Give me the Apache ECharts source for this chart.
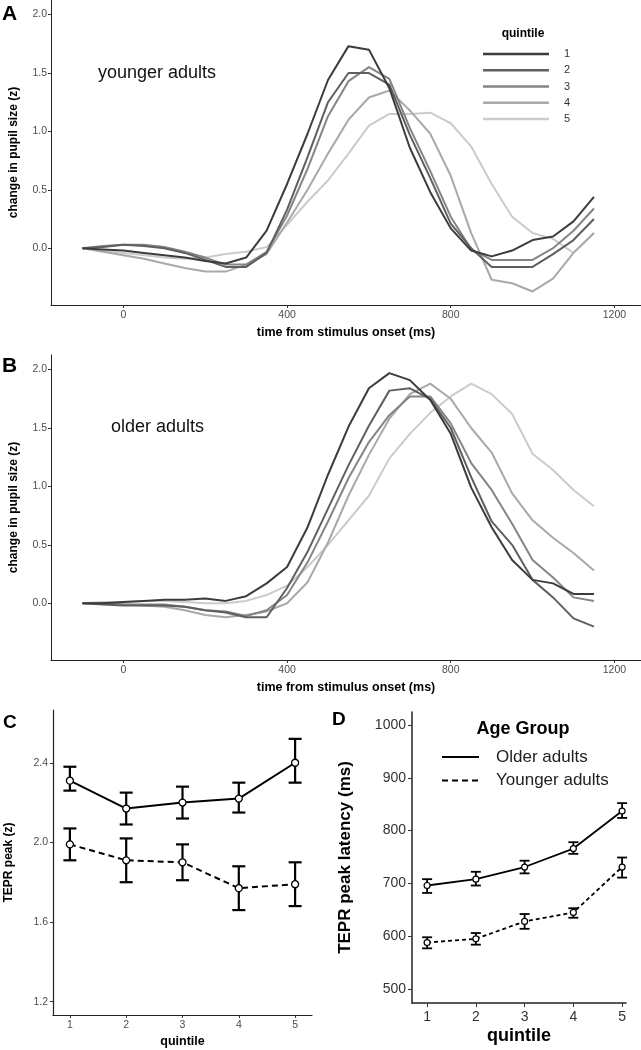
<!DOCTYPE html>
<html>
<head>
<meta charset="utf-8">
<script src="https://cdn.jsdelivr.net/npm/echarts@6/dist/echarts.min.js"></script>
<style>
html,body{margin:0;padding:0;background:#fff;}
#chart{width:641px;height:1050px;}
</style>
</head>
<body>
<div id="chart"></div>
<script>
// ---------- DATA ----------
const timeMs = [-100,-50,0,50,100,150,200,250,300,350,400,450,500,550,600,650,700,750,800,850,900,950,1000,1050,1100,1150];
const quintiles = ['1','2','3','4','5'];
// Panel A: younger adults
const youngQ1 = [0,-0.01,-0.02,-0.04,-0.06,-0.08,-0.11,-0.13,-0.08,0.15,0.55,0.98,1.44,1.73,1.70,1.37,0.86,0.48,0.17,-0.02,-0.07,-0.02,0.07,0.10,0.23,0.44];
const youngQ2 = [0,0.01,0.03,0.02,0.00,-0.04,-0.10,-0.16,-0.16,-0.04,0.33,0.78,1.25,1.50,1.50,1.40,0.97,0.60,0.21,0.00,-0.16,-0.16,-0.16,-0.05,0.07,0.25];
const youngQ3 = [0,0.02,0.03,0.03,0.01,-0.03,-0.08,-0.14,-0.14,-0.03,0.28,0.68,1.13,1.43,1.55,1.45,1.03,0.66,0.27,-0.01,-0.10,-0.10,-0.10,0.00,0.15,0.34];
const youngQ4 = [0,-0.03,-0.06,-0.09,-0.13,-0.17,-0.20,-0.20,-0.14,-0.05,0.22,0.50,0.81,1.10,1.29,1.35,1.18,0.98,0.62,0.13,-0.27,-0.30,-0.37,-0.26,-0.04,0.13];
const youngQ5 = [0,-0.02,-0.04,-0.06,-0.08,-0.09,-0.08,-0.05,-0.03,0.01,0.20,0.40,0.58,0.81,1.05,1.15,1.15,1.16,1.07,0.87,0.55,0.27,0.13,0.08,-0.04,0.13];
// Panel B: older adults
const olderQ1 = [0,0.00,0.01,0.02,0.03,0.03,0.04,0.02,0.06,0.17,0.31,0.65,1.10,1.51,1.84,1.97,1.91,1.74,1.45,0.99,0.65,0.37,0.20,0.17,0.08,0.08];
const olderQ2 = [0,-0.01,-0.02,-0.02,-0.02,-0.03,-0.06,-0.08,-0.12,-0.12,0.13,0.44,0.81,1.18,1.52,1.82,1.84,1.75,1.50,1.08,0.70,0.50,0.20,0.05,-0.13,-0.20];
const olderQ3 = [0,0.00,-0.01,-0.01,-0.01,-0.03,-0.06,-0.07,-0.11,-0.06,0.07,0.35,0.70,1.07,1.38,1.61,1.77,1.77,1.54,1.20,0.97,0.68,0.37,0.22,0.05,0.02];
const olderQ4 = [0,0.00,-0.01,-0.02,-0.03,-0.06,-0.10,-0.12,-0.10,-0.07,0.00,0.18,0.52,0.92,1.27,1.58,1.79,1.88,1.75,1.50,1.29,0.94,0.71,0.56,0.43,0.28];
const olderQ5 = [0,0.01,0.01,0.02,0.02,0.01,0.00,0.00,0.02,0.07,0.15,0.31,0.50,0.71,0.92,1.24,1.45,1.63,1.77,1.88,1.79,1.62,1.28,1.14,0.97,0.83];
// Panel C: TEPR peak (z)
const quintileNum = [1,2,3,4,5];
const peakOlder = [2.31,2.17,2.20,2.22,2.40];
const peakOlderLo = [2.26,2.09,2.12,2.15,2.30];
const peakOlderHi = [2.38,2.25,2.28,2.30,2.52];
const peakYounger = [1.99,1.91,1.90,1.77,1.79];
const peakYoungerLo = [1.91,1.80,1.81,1.66,1.68];
const peakYoungerHi = [2.07,2.02,1.99,1.88,1.90];
// Panel D: TEPR peak latency (ms)
const latOlder = [696,708,731,766,837];
const latOlderLo = [682,696,719,756,824];
const latOlderHi = [708,722,743,778,852];
const latYounger = [588,595,628,645,731];
const latYoungerLo = [577,584,614,635,711];
const latYoungerHi = [598,606,642,653,749];
// tick labels
const timeTicks = [0,400,800,1200];
const pupilTicks = [0,0.5,1.0,1.5,2.0];
const peakTicks = [1.2,1.6,2.0,2.4];
const latTicks = [500,600,700,800,900,1000];

// ---------- STYLE ----------
const FONT = 'Liberation Sans, Arial, sans-serif';
const greys = ['#3c3c3c','#5f5f5f','#858585','#a9a9a9','#cbcbcb'];
const youngData = [youngQ1,youngQ2,youngQ3,youngQ4,youngQ5];
const olderData = [olderQ1,olderQ2,olderQ3,olderQ4,olderQ5];
const zip = (xs, ys) => xs.map((x,i)=>[x, ys[i]]);
const zip3 = (xs, a, b) => xs.map((x,i)=>[x, a[i], b[i]]);
const plain = v => String(v);

function timeX(gi){
  return {
    type:'value', gridIndex:gi, min:-177, max:1265,
    name:'time from stimulus onset (ms)', nameLocation:'middle', nameGap:21,
    nameTextStyle:{fontFamily:FONT, fontWeight:'bold', fontSize:12.5, color:'#000'},
    axisLine:{show:true, onZero:false, lineStyle:{color:'#222', width:1}},
    axisTick:{show:true, length:3, lineStyle:{color:'#333'}, customValues:timeTicks},
    axisLabel:{fontFamily:FONT, fontSize:10.5, color:'#4d4d4d', margin:5, customValues:timeTicks, formatter:plain},
    splitLine:{show:false}
  };
}
function pupilY(gi){
  return {
    type:'value', gridIndex:gi, min:-0.486, max:2.125,
    name:'change in pupil size (z)', nameLocation:'middle', nameGap:31,
    nameTextStyle:{fontFamily:FONT, fontWeight:'bold', fontSize:12, color:'#000'},
    axisLine:{show:true, onZero:false, lineStyle:{color:'#222', width:1}},
    axisTick:{show:true, length:3, lineStyle:{color:'#333'}, customValues:pupilTicks},
    axisLabel:{fontFamily:FONT, fontSize:10.5, color:'#4d4d4d', margin:4, customValues:pupilTicks,
      formatter:v=>v.toFixed(1)},
    splitLine:{show:false}
  };
}
function errRender(capHalf, lw){
  return function(params, api){
    const x = api.value(0), lo = api.value(1), hi = api.value(2);
    const a = api.coord([x, lo]), b = api.coord([x, hi]);
    const st = {stroke:'#000', lineWidth:lw};
    return {type:'group', children:[
      {type:'line', shape:{x1:a[0], y1:a[1], x2:b[0], y2:b[1]}, style:st},
      {type:'line', shape:{x1:a[0]-capHalf, y1:a[1], x2:a[0]+capHalf, y2:a[1]}, style:st},
      {type:'line', shape:{x1:b[0]-capHalf, y1:b[1], x2:b[0]+capHalf, y2:b[1]}, style:st}
    ]};
  };
}

const series = [];
quintiles.forEach((q,i)=>{
  series.push({type:'line', name:q, xAxisIndex:0, yAxisIndex:0, data:zip(timeMs, youngData[i]),
    showSymbol:false, symbol:'none', color:greys[i], lineStyle:{width:2, color:greys[i]}, z:10-i});
});
quintiles.forEach((q,i)=>{
  series.push({type:'line', name:q, xAxisIndex:1, yAxisIndex:1, data:zip(timeMs, olderData[i]),
    showSymbol:false, symbol:'none', color:greys[i], lineStyle:{width:2, color:greys[i]}, z:10-i});
});
// Panel C
series.push({type:'custom', name:'peak CI older', xAxisIndex:2, yAxisIndex:2, renderItem:errRender(6.5,2.2),
  data:zip3(quintileNum, peakOlderLo, peakOlderHi), encode:{x:0, y:[1,2]}, z:2});
series.push({type:'custom', name:'peak CI younger', xAxisIndex:2, yAxisIndex:2, renderItem:errRender(6.5,2.2),
  data:zip3(quintileNum, peakYoungerLo, peakYoungerHi), encode:{x:0, y:[1,2]}, z:2});
series.push({type:'line', name:'Older adults', xAxisIndex:2, yAxisIndex:2, data:zip(quintileNum, peakOlder),
  symbol:'circle', symbolSize:7, itemStyle:{color:'#fff', borderColor:'#000', borderWidth:1.3},
  lineStyle:{color:'#000', width:2, type:'solid'}, z:5});
series.push({type:'line', name:'Younger adults', xAxisIndex:2, yAxisIndex:2, data:zip(quintileNum, peakYounger),
  symbol:'circle', symbolSize:7, itemStyle:{color:'#fff', borderColor:'#000', borderWidth:1.3},
  lineStyle:{color:'#000', width:2, type:[6,4]}, z:5});
// Panel D
series.push({type:'custom', name:'latency CI older', xAxisIndex:3, yAxisIndex:3, renderItem:errRender(5,1.8),
  data:zip3(quintileNum, latOlderLo, latOlderHi), encode:{x:0, y:[1,2]}, z:2});
series.push({type:'custom', name:'latency CI younger', xAxisIndex:3, yAxisIndex:3, renderItem:errRender(5,1.8),
  data:zip3(quintileNum, latYoungerLo, latYoungerHi), encode:{x:0, y:[1,2]}, z:2});
series.push({type:'line', name:'Older adults', xAxisIndex:3, yAxisIndex:3, data:zip(quintileNum, latOlder),
  symbol:'circle', symbolSize:6, itemStyle:{color:'#fff', borderColor:'#000', borderWidth:1.2},
  lineStyle:{color:'#000', width:1.8, type:'solid'}, z:5});
series.push({type:'line', name:'Younger adults', xAxisIndex:3, yAxisIndex:3, data:zip(quintileNum, latYounger),
  symbol:'circle', symbolSize:6, itemStyle:{color:'#fff', borderColor:'#000', borderWidth:1.2},
  lineStyle:{color:'#000', width:1.8, type:[4,3]}, z:5});

const baseAxisLine = {show:true, onZero:false, lineStyle:{color:'#222', width:1.2}};

const option = {
  animation:false,
  backgroundColor:'#fff',
  textStyle:{fontFamily:FONT},
  grid:[
    {left:47, top:0, width:594, height:305},
    {left:47, top:355, width:594, height:305},
    {left:53, top:710, width:259, height:305},
    {left:412, top:712, width:214, height:291}
  ],
  xAxis:[
    timeX(0), timeX(1),
    {type:'value', gridIndex:2, min:0.7, max:5.3, name:'quintile', nameLocation:'middle', nameGap:20,
      nameTextStyle:{fontFamily:FONT, fontWeight:'bold', fontSize:12.5, color:'#000'},
      axisLine:baseAxisLine, axisTick:{show:true, length:3, lineStyle:{color:'#333'}, customValues:quintileNum},
      axisLabel:{fontFamily:FONT, fontSize:10.5, color:'#4d4d4d', margin:5, customValues:quintileNum}, splitLine:{show:false}},
    {type:'value', gridIndex:3, min:0.69, max:5.08, name:'quintile', nameLocation:'middle', nameGap:24,
      nameTextStyle:{fontFamily:FONT, fontWeight:'bold', fontSize:18, color:'#000'},
      axisLine:{show:true, onZero:false, lineStyle:{color:'#222', width:1.5}},
      axisTick:{show:true, length:4, lineStyle:{color:'#333'}, customValues:quintileNum},
      axisLabel:{fontFamily:FONT, fontSize:14, color:'#333', margin:7, customValues:quintileNum}, splitLine:{show:false}}
  ],
  yAxis:[
    pupilY(0), pupilY(1),
    {type:'value', gridIndex:2, min:1.133, max:2.665, name:'TEPR peak (z)', nameLocation:'middle', nameGap:38,
      nameTextStyle:{fontFamily:FONT, fontWeight:'bold', fontSize:12, color:'#000'},
      axisLine:baseAxisLine, axisTick:{show:true, length:3, lineStyle:{color:'#333'}, customValues:peakTicks},
      axisLabel:{fontFamily:FONT, fontSize:10.5, color:'#4d4d4d', margin:5, customValues:peakTicks, formatter:v=>v.toFixed(1)},
      splitLine:{show:false}},
    {type:'value', gridIndex:3, min:473.5, max:1024.6, name:'TEPR peak latency (ms)', nameLocation:'middle', nameGap:58,
      nameTextStyle:{fontFamily:FONT, fontWeight:'bold', fontSize:17, color:'#000'},
      axisLine:{show:true, onZero:false, lineStyle:{color:'#222', width:1.5}},
      axisTick:{show:true, length:4, lineStyle:{color:'#333'}, customValues:latTicks},
      axisLabel:{fontFamily:FONT, fontSize:14, color:'#333', margin:6, customValues:latTicks, formatter:plain},
      splitLine:{show:false}}
  ],
  legend:[
    {data:quintiles, orient:'vertical', left:483, top:47, padding:0, icon:'rect',
      itemWidth:66, itemHeight:2.5, itemGap:2.25, selectedMode:false,
      textStyle:{fontFamily:FONT, fontSize:11, color:'#333', lineHeight:14, padding:[0,0,0,10]}},
    {data:['Older adults','Younger adults'], orient:'vertical', left:441, top:747, padding:0,
      itemWidth:37, itemHeight:14, itemGap:3.5, selectedMode:false,
      itemStyle:{opacity:0},
      textStyle:{fontFamily:FONT, fontSize:17, color:'#222', lineHeight:20, padding:[0,0,0,12]}}
  ],
  graphic:[
    {type:'text', left:2, top:4, style:{text:'A', font:'bold 21px '+FONT, fill:'#000'}},
    {type:'text', left:2, top:356, style:{text:'B', font:'bold 21px '+FONT, fill:'#000'}},
    {type:'text', left:3, top:713, style:{text:'C', font:'bold 19px '+FONT, fill:'#000'}},
    {type:'text', left:332, top:710, style:{text:'D', font:'bold 19px '+FONT, fill:'#000'}},
    {type:'text', left:98, top:64, style:{text:'younger adults', font:'18px '+FONT, fill:'#111'}},
    {type:'text', left:111, top:418, style:{text:'older adults', font:'18px '+FONT, fill:'#111'}},
    {type:'text', x:523, y:34, style:{text:'quintile', font:'bold 12px '+FONT, fill:'#000', textAlign:'center', textVerticalAlign:'middle'}},
    {type:'text', x:523, y:729, style:{text:'Age Group', font:'bold 18px '+FONT, fill:'#000', textAlign:'center', textVerticalAlign:'middle'}}
  ],
  series:series
};
const chart = echarts.init(document.getElementById('chart'), null, {renderer:'canvas'});
chart.setOption(option);
</script>
</body>
</html>
